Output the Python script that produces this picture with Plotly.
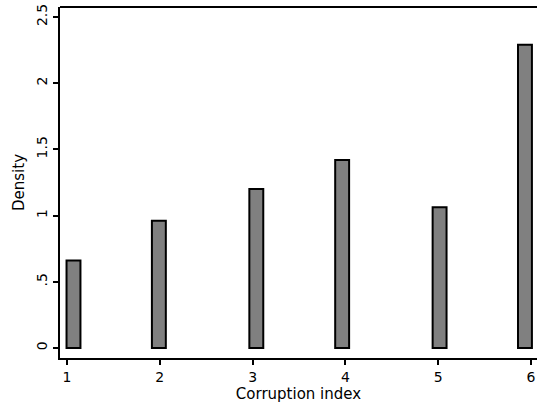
import plotly.graph_objects as go

bar_centers = [1.07, 1.99, 3.04, 3.965, 5.015, 5.935]
densities = [0.66, 0.962, 1.2, 1.42, 1.064, 2.29]
bar_width = 0.15
x_ticks = [1, 2, 3, 4, 5, 6]
y_ticks = [0, 0.5, 1, 1.5, 2, 2.5]
y_labels = ["0", ".5", "1", "1.5", "2", "2.5"]

fig = go.Figure()
fig.add_trace(go.Bar(
    x=bar_centers, y=densities, width=bar_width,
    marker=dict(color="#808080", line=dict(color="black", width=2)),
))

font = dict(family="DejaVu Sans, Liberation Sans, sans-serif", size=14, color="black")
fig.update_layout(
    width=537, height=404,
    margin=dict(l=60, r=0, t=7, b=46),
    plot_bgcolor="white", paper_bgcolor="white",
    showlegend=False, font=font,
    xaxis=dict(
        range=[0.9246, 6.0647], tickvals=x_ticks, ticktext=[str(t) for t in x_ticks],
        showgrid=False, zeroline=False, showline=True, linecolor="black", linewidth=2,
        ticks="outside", ticklen=5, tickwidth=2, tickcolor="black",
        title=dict(text="Corruption index", standoff=0, font=dict(size=15)),
        tickfont=dict(size=14),
    ),
    yaxis=dict(
        range=[-0.0755, 2.5755], tickvals=y_ticks, ticktext=y_labels,
        showgrid=False, zeroline=False, showline=True, linecolor="black", linewidth=2,
        ticks="outside", ticklen=5, tickwidth=2, tickcolor="black", tickangle=-90,
        title=dict(text="Density", standoff=6, font=dict(size=15)),
        tickfont=dict(size=14),
    ),
    shapes=[dict(type="line", xref="paper", yref="paper", x0=0, x1=1, y0=1, y1=1,
                 line=dict(color="black", width=2))],
)
fig.write_html("out.html")
